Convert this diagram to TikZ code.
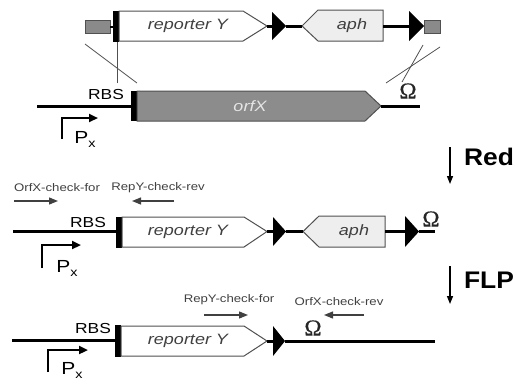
\documentclass[tikz,border=0pt]{standalone}
\usepackage{fontspec}
\setmainfont{Liberation Sans}
\newfontfamily\widefont[FakeStretch=1.2]{Liberation Sans}
\newfontfamily\bigfont[FakeStretch=1.1]{Liberation Sans}
\newfontfamily\omegafont[FakeBold=0.6]{Liberation Serif}
\usetikzlibrary{arrows.meta}
\definecolor{edge}{HTML}{505050}
\definecolor{orfgrey}{HTML}{8C8C8C}
\definecolor{smallgrey}{HTML}{8A8A8A}
\definecolor{aphgrey}{HTML}{EEEEEE}
\definecolor{primer}{HTML}{404040}
\newcommand{\PxLabel}{{\widefont\fontsize{17.5}{17.5}\selectfont P\raisebox{-4pt}{\fontsize{12}{12}\selectfont x}}}
\begin{document}
\begin{tikzpicture}[x=1pt,y=-1pt,
  dna/.style={line width=3pt},
  gene/.style={draw=edge,line width=1pt,line join=miter},
  thinline/.style={draw=edge,line width=0.8pt},
  genelabel/.style={font=\widefont\fontsize{15}{15}\selectfont\itshape,text=black!75},
  rbs/.style={font=\widefont\fontsize{14.5}{14.5}\selectfont,inner sep=0pt},
  primerlbl/.style={font=\widefont\fontsize{11}{11}\selectfont,text=primer,inner sep=0pt},
  primerarrow/.style={draw=primer,line width=1.3pt,-{Triangle[length=9pt,width=7pt]}},
  promoter/.style={line width=2.2pt,-{Triangle[length=9pt,width=8pt]}},
  stepbig/.style={font=\bigfont\bfseries\fontsize{24}{24}\selectfont,inner sep=0pt},
  steparrow/.style={line width=1.4pt,-{Triangle[length=8pt,width=6pt]}},
  omega/.style={font=\omegafont\fontsize{23}{23}\selectfont,inner sep=0pt,text=black!85},
  pxlbl/.style={inner sep=0pt},
]
\useasboundingbox (0,0) rectangle (518,383);

% ---------------- top construct ----------------
\filldraw[fill=smallgrey,draw=edge,line width=0.8pt] (85,20) rectangle (110,33);
\coordinate (lbx) at (110,26.5);
\fill (113,11) rectangle (119,42);
\coordinate (lbar) at (113,26.5);
\draw[line width=2pt] (lbx) -- (lbar);
\draw[gene,fill=white] (119,11) -- (243,11) -- (267,26) -- (243,41) -- (119,41) -- cycle;
\node[genelabel] (repT) at (188,26) {reporter Y};
\coordinate (repTtip) at (267,26);
\fill (272,12) -- (286,26) -- (272,40) -- cycle;
\coordinate (frt1b) at (272,26);
\coordinate (frt1t) at (286,26);
\draw[dna] (repTtip) -- (frt1b);
\draw[gene,fill=aphgrey] (302,26) -- (318,10) -- (383,10) -- (383,41) -- (318,41) -- cycle;
\node[genelabel] (aphT) at (352,26) {aph};
\coordinate (aphTtip) at (302,26);
\coordinate (aphTend) at (383,26);
\draw[dna] (frt1t) -- (aphTtip);
\fill (409,11) -- (424,26) -- (409,41) -- cycle;
\coordinate (frt2b) at (409,26);
\coordinate (frt2t) at (424,26);
\draw[dna] (aphTend) -- (frt2b);
\filldraw[fill=smallgrey,draw=edge,line width=0.8pt] (424,20) rectangle (440,33);

% crossover lines
\coordinate (cA1) at (85,44); \coordinate (cA2) at (137,83);
\coordinate (cB1) at (117,42); \coordinate (cB2) at (117,83);
\coordinate (cC1) at (386,83); \coordinate (cC2) at (440,47);
\coordinate (cD1) at (423,45); \coordinate (cD2) at (402,82);
\draw[thinline] (cA1) -- (cA2);
\draw[thinline] (cB1) -- (cB2);
\draw[thinline] (cC1) -- (cC2);
\draw[thinline] (cD1) -- (cD2);

% ---------------- row 1: chromosome ----------------
\coordinate (d1s) at (37,106);
\coordinate (bar1) at (131,106);
\draw[dna] (d1s) -- (bar1);
\fill (131,91) rectangle (137,121);
\draw[gene,fill=orfgrey] (137,91) -- (365,91) -- (381,106) -- (365,121) -- (137,121) -- cycle;
\node[genelabel,text=white!90!black] (orf) at (250,106) {orfX};
\coordinate (orftip) at (381,106);
\coordinate (d1e) at (420,106);
\draw[dna] (orftip) -- (d1e);
\node[omega] (om1) at (408,91) {Ω};
\node[rbs] (rbs1) at (106,94.5) {RBS};
\coordinate (p1a) at (62,139); \coordinate (p1b) at (62,118); \coordinate (p1c) at (98,118);
\draw[promoter] (p1a) -- (p1b) -- (p1c);
\node[pxlbl] (px1) at (85,139) {\PxLabel};

% Red step
\coordinate (r1) at (450,147); \coordinate (r2) at (450,184);
\draw[steparrow] (r1) -- (r2);
\node[stepbig] (red) at (489,157) {Red};

% ---------------- row 2 ----------------
\node[primerlbl] (pf1) at (57,188) {OrfX-check-for};
\coordinate (pf1a) at (14,201); \coordinate (pf1b) at (58,201);
\draw[primerarrow] (pf1a) -- (pf1b);
\node[primerlbl] (pr1) at (158,188) {RepY-check-rev};
\coordinate (pr1a) at (174,201); \coordinate (pr1b) at (132,201);
\draw[primerarrow] (pr1a) -- (pr1b);

\coordinate (d2s) at (13,231); \coordinate (bar2) at (116,231);
\draw[dna] (d2s) -- (bar2);
\fill (116,217) rectangle (122,248);
\draw[gene,fill=white] (122,217) -- (244,217) -- (267,231.5) -- (244,247) -- (122,247) -- cycle;
\node[genelabel] (rep2) at (188,232) {reporter Y};
\coordinate (rep2tip) at (267,231.5);
\fill (273,217) -- (286,231.5) -- (273,246) -- cycle;
\coordinate (frt3b) at (273,231.5); \coordinate (frt3t) at (286,231.5);
\draw[dna] (rep2tip) -- (frt3b);
\draw[gene,fill=aphgrey] (303,231.5) -- (319,216) -- (385,216) -- (385,247) -- (319,247) -- cycle;
\node[genelabel] (aph2) at (354,232) {aph};
\coordinate (aph2tip) at (303,231.5); \coordinate (aph2end) at (385,231.5);
\draw[dna] (frt3t) -- (aph2tip);
\fill (405,216) -- (419,231.5) -- (405,247) -- cycle;
\coordinate (frt4b) at (405,231.5); \coordinate (frt4t) at (419,231.5);
\draw[dna] (aph2end) -- (frt4b);
\coordinate (d2e) at (435,231.5);
\draw[dna] (frt4t) -- (d2e);
\node[omega] (om2) at (431,219) {Ω};
\node[rbs] (rbs2) at (88,222.5) {RBS};
\coordinate (p2a) at (42,268); \coordinate (p2b) at (42,245); \coordinate (p2c) at (81,245);
\draw[promoter] (p2a) -- (p2b) -- (p2c);
\node[pxlbl] (px2) at (67,268) {\PxLabel};

% FLP step
\coordinate (f1) at (450,266); \coordinate (f2) at (450,304);
\draw[steparrow] (f1) -- (f2);
\node[stepbig] (flp) at (489,280) {FLP};

% ---------------- row 3 ----------------
\node[primerlbl] (pf2) at (229,300) {RepY-check-for};
\coordinate (pf2a) at (204,315); \coordinate (pf2b) at (248,315);
\draw[primerarrow] (pf2a) -- (pf2b);
\node[primerlbl] (pr2) at (339,302) {OrfX-check-rev};
\coordinate (pr2a) at (364,315); \coordinate (pr2b) at (324,315);
\draw[primerarrow] (pr2a) -- (pr2b);

\coordinate (d3s) at (12,340); \coordinate (bar3) at (115,340);
\draw[dna] (d3s) -- (bar3);
\fill (115,325) rectangle (121,357);
\draw[gene,fill=white] (121,326) -- (244,326) -- (267,341) -- (244,356) -- (121,356) -- cycle;
\node[genelabel] (rep3) at (188,341) {reporter Y};
\coordinate (rep3tip) at (267,341);
\fill (273,326) -- (285,341) -- (273,356) -- cycle;
\coordinate (frt5b) at (273,341); \coordinate (frt5t) at (285,341);
\draw[dna] (rep3tip) -- (frt5b);
\coordinate (d3e) at (435,341);
\draw[dna] (frt5t) -- (d3e);
\node[omega] (om3) at (313,328) {Ω};
\node[rbs] (rbs3) at (93,329) {RBS};
\coordinate (p3a) at (48,372); \coordinate (p3b) at (48,350); \coordinate (p3c) at (88,350);
\draw[promoter] (p3a) -- (p3b) -- (p3c);
\node[pxlbl] (px3) at (72,370) {\PxLabel};
\end{tikzpicture}
\end{document}
